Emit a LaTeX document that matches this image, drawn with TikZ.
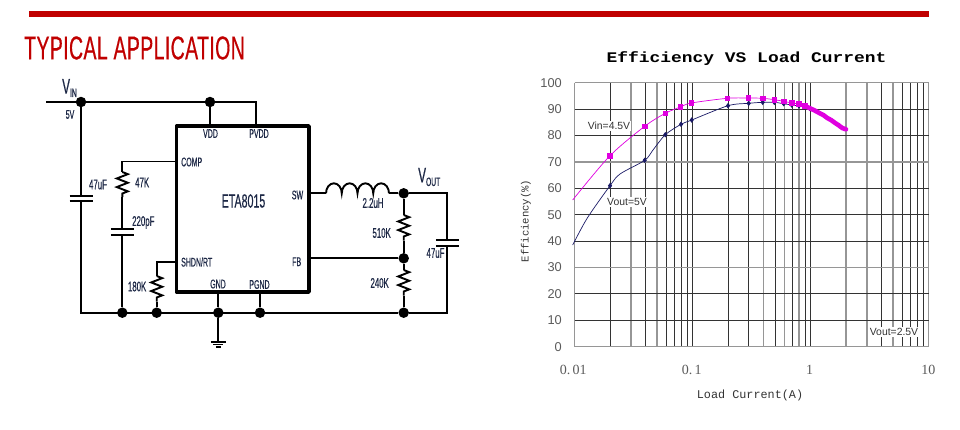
\documentclass[tikz,border=0pt]{standalone}
\usepackage{fontspec}
\usepackage{tikz}
\usetikzlibrary{calc,positioning,decorations.pathmorphing,plotmarks}
\setmainfont{Liberation Sans}
\newfontfamily\condfont[FakeStretch=0.56,FakeBold=0.5]{Liberation Sans}
\newfontfamily\titlefont[FakeStretch=0.59,FakeBold=0.4,LetterSpace=1.2]{Liberation Sans}
\newfontfamily\chartfont{Liberation Mono}
\newfontfamily\chartserif{Liberation Serif}
\newfontfamily\chartwide[FakeStretch=1.22]{Liberation Mono}
\definecolor{barred}{HTML}{C00000}
\definecolor{inkblue}{HTML}{1C2745}
\definecolor{griddark}{HTML}{333333}
\definecolor{gridgray}{HTML}{969696}
\definecolor{ticktext}{HTML}{5A5A5A}
\definecolor{vinline}{HTML}{E000E0}
\definecolor{voutline}{HTML}{1A1A66}
\newdimen\platew
\platew=11.5pt
\tikzstyle{wire}=[
  draw=black,
  line width=1.9pt,
]
\tikzstyle{chip}=[
  draw=black,
  line width=3.8pt,
  line join=round,
]
\tikzstyle{junction}=[
  circle,
  fill=black,
  inner sep=0pt,
  minimum size=10.5pt,
]
\tikzstyle{resistor}=[
  wire,
  decorate,
  decoration={zigzag,segment length=8.6pt,amplitude=5.5pt},
]
\tikzstyle{pinlabel}=[
  color=inkblue,
  font={\condfont\fontsize{12.5}{13}\selectfont},
  inner sep=0pt,
]
\tikzstyle{partlabel}=[
  color=inkblue,
  font={\condfont\fontsize{14}{15}\selectfont},
  inner sep=0pt,
]
\tikzstyle{griddk}=[
  draw=griddark,
  line width=.95pt,
]
\tikzstyle{gridgy}=[
  draw=gridgray,
  line width=1.5pt,
]
\tikzstyle{ticklabel}=[
  color=ticktext,
  font={\fontsize{12.8}{14}\selectfont},
  inner sep=0pt,
]
\tikzstyle{xticklabel}=[
  color=ticktext,
  font={\chartserif\fontsize{14}{15}\selectfont},
  inner sep=0pt,
]
\tikzstyle{curvelabel}=[
  color=griddark,
  fill=white,
  font={\fontsize{10.4}{12}\selectfont},
  inner sep=1pt,
]
\newcommand{\capplates}[2]{
  \draw [wire] ($(#1)-(\platew,0)$) -- ($(#1)+(\platew,0)$);
  \draw [wire] ($(#2)-(\platew,0)$) -- ($(#2)+(\platew,0)$);
}
\begin{document}
\begin{tikzpicture}[x=1pt,y=-1pt]
  \useasboundingbox (0,0) rectangle (960,429);
  %% heading
  \fill [barred] (29,11) rectangle (929,17);
  \node (title) [color=barred, anchor=west, inner sep=0pt,
    font={\titlefont\fontsize{33}{35}\selectfont}] at (24,48) {TYPICAL APPLICATION};
  %%
  %% circuit
  \draw [chip] (176.5,126) rectangle (309,292);
  \coordinate (chipname) at (243.5,201);
  \node (eta) [color=inkblue, font={\condfont\fontsize{19}{20}\selectfont}] at (chipname) {ETA8015};
  \coordinate (vinstart) at (46,102);
  \node (jvin) [junction] at (81,102) {};
  \node (jvdd) [junction] at (210,102) {};
  \coordinate (vdd) at (210,126);
  \coordinate (pvdd) at (256,126);
  \coordinate (comp) at (176,161.5);
  \coordinate (shdn) at (176,262.3);
  \coordinate (gnd) at (218.3,292);
  \coordinate (pgnd) at (260,292);
  \coordinate (sw) at (309,193.3);
  \coordinate (fb) at (309,258.3);
  \node (jleft) [inner sep=0pt] at (81,312.7) {};
  \node (jcomp) [junction] at (122.3,312.7) {};
  \node (jshdn) [junction] at (156.7,312.7) {};
  \node (jgnd) [junction] at (218.3,312.7) {};
  \node (jpgnd) [junction] at (260,312.7) {};
  \node (jlow) [junction] at (403.7,312.7) {};
  \node (jsw) [junction] at (403.7,193.3) {};
  \node (jfb) [junction] at (403.7,258.3) {};
  %%
  \draw [wire] (vinstart) -- (jvin) -- (jvdd) -- (256,102) -- (pvdd);
  \draw [wire] (jvdd) -- (vdd);
  %% input capacitor
  \coordinate (cinA) at (81,196);
  \coordinate (cinB) at (81,201.3);
  \capplates{cinA}{cinB}
  \draw [wire] (jvin) -- (cinA);
  \draw [wire] (cinB) -- (jleft.center) -- (jlow);
  %% compensation
  \coordinate (rcompA) at (122.3,172);
  \coordinate (rcompB) at (122.3,197);
  \coordinate (ccompA) at (122.3,229.3);
  \coordinate (ccompB) at (122.3,234.7);
  \draw [wire] (comp) -- (122.3,161.5) -- (rcompA);
  \draw [resistor] (rcompA) -- (rcompB);
  \draw [wire] (rcompB) -- (ccompA);
  \capplates{ccompA}{ccompB}
  \draw [wire] (ccompB) -- (jcomp);
  %% shutdown resistor
  \coordinate (rshdnA) at (156.7,276);
  \coordinate (rshdnB) at (156.7,301.7);
  \draw [wire] (shdn) -- (156.7,262.3) -- (rshdnA);
  \draw [resistor] (rshdnA) -- (rshdnB);
  \draw [wire] (rshdnB) -- (jshdn);
  %% ground
  \coordinate (earth) at (218.3,342);
  \draw [wire] (gnd) -- (jgnd) -- (earth);
  \draw [wire] (pgnd) -- (jpgnd);
  \draw [wire] ($(earth)-(7.5,0)$) -- ($(earth)+(7.5,0)$);
  \draw [wire] ($(earth)+(-5,2.5)$) -- ($(earth)+(5,2.5)$);
  \draw [wire] ($(earth)+(-2.5,5)$) -- ($(earth)+(2.5,5)$);
  %% inductor
  \coordinate (coilA) at (326,193.3);
  \coordinate (coilB) at (389,193.3);
  \draw [wire] (sw) -- (coilA);
  \draw [wire] (coilA) \foreach \i in {1,2,3,4} { arc [start angle=180, end angle=0, x radius=7.875pt, y radius=10pt] };
  \draw [wire] (coilB) -- (jsw);
  %% output divider
  \coordinate (rtopA) at (403.7,215);
  \coordinate (rtopB) at (403.7,240.7);
  \coordinate (rlowA) at (403.7,270);
  \coordinate (rlowB) at (403.7,295.7);
  \draw [wire] (jsw) -- (rtopA);
  \draw [resistor] (rtopA) -- (rtopB);
  \draw [wire] (rtopB) -- (jfb);
  \draw [wire] (fb) -- (jfb);
  \draw [wire] (jfb) -- (rlowA);
  \draw [resistor] (rlowA) -- (rlowB);
  \draw [wire] (rlowB) -- (jlow);
  %% output capacitor
  \coordinate (coutA) at (447.3,240);
  \coordinate (coutB) at (447.3,246);
  \draw [wire] (jsw) -- (447.3,193.3) -- (coutA);
  \capplates{coutA}{coutB}
  \draw [wire] (coutB) -- (447.3,312.7) -- (jlow);
  %%
  %% circuit labels
  \node (lvin) [color=inkblue, anchor=west, inner sep=0pt] at (62,88)
    {\condfont\fontsize{21}{21}\selectfont V\raisebox{-3.5pt}{\fontsize{12}{12}\selectfont IN}};
  \node (lfive) [pinlabel] at (70,114.5) {5V};
  \node (lvdd) [pinlabel] at (210.5,133.5) {VDD};
  \node (lpvdd) [pinlabel] at (259,133.5) {PVDD};
  \node (lcomp) [pinlabel, anchor=west] at (181,162) {COMP};
  \node (lshdn) [pinlabel, anchor=west] at (181,262) {SHDN/RT};
  \node (lgnd) [pinlabel] at (218,284) {GND};
  \node (lpgnd) [pinlabel] at (259.5,284.5) {PGND};
  \node (lsw) [pinlabel] at (297.5,195) {SW};
  \node (lfb) [pinlabel] at (296.7,261.7) {FB};
  \node (lcin) [partlabel] at (98,184.5) {47uF};
  \node (lrcomp) [partlabel, anchor=west] at (135,182.5) {47K};
  \node (lccomp) [partlabel, anchor=west] at (132,222.5) {220pF};
  \node (lrshdn) [partlabel, anchor=east] at (146.5,286.5) {180K};
  \node (lcoil) [partlabel] at (373,203) {2.2uH};
  \node (lrtop) [partlabel, anchor=east] at (391,233) {510K};
  \node (lrlow) [partlabel, anchor=east] at (389,283) {240K};
  \node (lcout) [partlabel] at (435.5,253) {47uF};
  \node (lvout) [color=inkblue, anchor=west, inner sep=0pt] at (418,177)
    {\condfont\fontsize{21}{21}\selectfont V\raisebox{-3.5pt}{\fontsize{12}{12}\selectfont OUT}};
  %%
  %% chart grid
  \foreach \v in {1,3,5,40,60,80,200,300,500,1000} {
    \draw [gridgy] ({574.5+118*log10(\v)},82.7) -- ({574.5+118*log10(\v)},346.7);
  }
  \foreach \v in {2,4,6,7,8,9,10,20,30,50,70,90,100,400,600,700,800,900} {
    \draw [griddk] ({574.5+118*log10(\v)},82.7) -- ({574.5+118*log10(\v)},346.7);
  }
  \foreach \e in {0,30,70,100} {
    \draw [gridgy] (574.5,{346.7-2.64*\e}) -- (928.7,{346.7-2.64*\e});
  }
  \foreach \e in {10,20,40,50,60,80,90} {
    \draw [griddk] (574.5,{346.7-2.64*\e}) -- (928.7,{346.7-2.64*\e});
  }
  %%
  %% chart labels
  \foreach \e in {0,10,...,100} {
    \node (ytick\e) [ticklabel, anchor=east] at (562,{346.7-2.64*\e}) {\e};
  }
  \node (xtickA) [xticklabel] at (573.3,370) {0.\,01};
  \node (xtickB) [xticklabel] at (691.7,370) {0.\,1};
  \node (xtickC) [xticklabel] at (809.7,370) {1};
  \node (xtickD) [xticklabel] at (928.3,370) {10};
  \node (charttitle) [inner sep=0pt, font={\chartwide\bfseries\fontsize{14.7}{16}\selectfont}] at (746.5,59) {Efficiency VS Load Current};
  \node (xlabel) [ticklabel, color=griddark, font={\chartfont\fontsize{11.8}{13}\selectfont}] at (750,395) {Load Current(A)};
  \node (ylabel) [ticklabel, color=griddark, rotate=90, font={\chartfont\fontsize{10.6}{12}\selectfont}] at (526,221) {Efficiency(\%)};
  %%
  %% chart curves
  \draw [voutline, line width=.7pt] plot [smooth, mark=diamond*, mark size=2.2pt,
      mark options={fill=voutline, draw=voutline},
      mark indices={3,5,7,8,9,10,11,12,13,14,15,16,17,18}] coordinates {
    (572.7,245) (587.3,218) (610,185.7) (620,174) (644.7,160.3) (653,150)
    (665.3,134.7) (681,124.3) (691.7,120) (728,105.7) (748.7,103.3) (762.7,102.3)
    (774.3,102.3) (783.7,103.7) (791.7,105) (799,106) (805,107) (810,108.5)
    (823,115) (846,129.3)};
  \draw [vinline, line width=.7pt] plot [smooth, mark=square*, mark size=2.3pt,
      mark options={fill=vinline, draw=vinline}, mark phase=2, mark repeat=1] coordinates {
    (572.7,200) (609.7,156) (644.7,126.3) (665.3,113.3) (680.3,107) (691.3,103)
    (727.3,98.3) (748.3,98) (762.7,98.3) (774.3,99.7) (783.7,101.3) (791.7,103)
    (799,104) (805,106)};
  \draw [vinline, line width=4.6pt, line cap=round] plot [smooth] coordinates {
    (805,106) (810,108.3) (814.7,110.5) (819.3,113) (823.3,115)
    (827.3,118) (831,120) (834.7,122.7) (838.7,125.3) (842.3,128) (846,129.3)};
  \node (vinlabel) [curvelabel] at (609,126) {Vin=4.5V};
  \node (vfivelabel) [curvelabel] at (627,202) {Vout=5V};
  \node (vtwolabel) [curvelabel] at (894,332) {Vout=2.5V};
\end{tikzpicture}
\end{document}
